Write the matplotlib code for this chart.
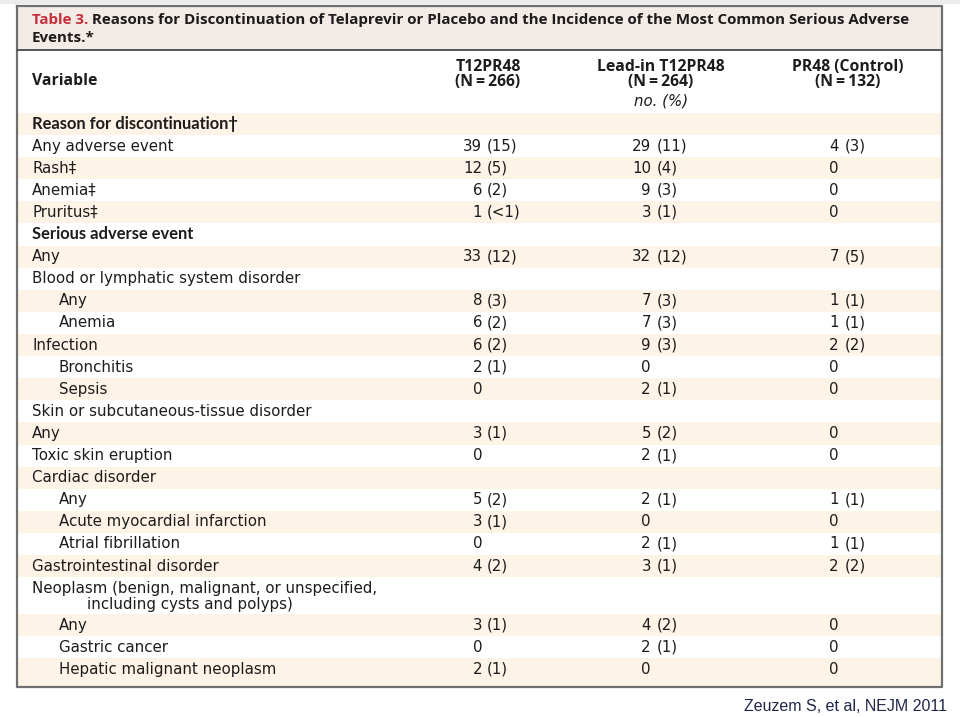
import matplotlib
matplotlib.use("Agg")
import matplotlib.pyplot as plt
from matplotlib.patches import Rectangle

# ---------------- data ----------------
title_red = "Table 3."
title_line1 = " Reasons for Discontinuation of Telaprevir or Placebo and the Incidence of the Most Common Serious Adverse"
title_line2 = "Events.*"

col_headers = [("T12PR48", "(N\u2009=\u2009266)"),
               ("Lead-in T12PR48", "(N\u2009=\u2009264)"),
               ("PR48 (Control)", "(N\u2009=\u2009132)")]
units_label = "no. (%)"
variable_label = "Variable"

labels = ["Reason for discontinuation\u2020", "Any adverse event", "Rash\u2021", "Anemia\u2021",
          "Pruritus\u2021", "Serious adverse event", "Any", "Blood or lymphatic system disorder",
          "Any", "Anemia", "Infection", "Bronchitis", "Sepsis",
          "Skin or subcutaneous-tissue disorder", "Any", "Toxic skin eruption",
          "Cardiac disorder", "Any", "Acute myocardial infarction", "Atrial fibrillation",
          "Gastrointestinal disorder",
          "Neoplasm (benign, malignant, or unspecified,\nincluding cysts and polyps)",
          "Any", "Gastric cancer", "Hepatic malignant neoplasm"]
indent = [0, 0, 0, 0, 0, 0, 0, 0, 1, 1, 0, 1, 1, 0, 0, 0, 0, 1, 1, 1, 0, 0, 1, 1, 1]
is_bold = [1, 0, 0, 0, 0, 1, 0, 0, 0, 0, 0, 0, 0, 0, 0, 0, 0, 0, 0, 0, 0, 0, 0, 0, 0]

t12_n = [None, 39, 12, 6, 1, None, 33, None, 8, 6, 6, 2, 0, None, 3, 0, None, 5, 3, 0, 4, None, 3, 0, 2]
t12_pct = [None, "15", "5", "2", "<1", None, "12", None, "3", "2", "2", "1", None, None, "1", None,
           None, "2", "1", None, "2", None, "1", None, "1"]
lead_n = [None, 29, 10, 9, 3, None, 32, None, 7, 7, 9, 0, 2, None, 5, 2, None, 2, 0, 2, 3, None, 4, 2, 0]
lead_pct = [None, "11", "4", "3", "1", None, "12", None, "3", "3", "3", None, "1", None, "2", "1",
            None, "1", None, "1", "1", None, "2", "1", None]
pr48_n = [None, 4, 0, 0, 0, None, 7, None, 1, 1, 2, 0, 0, None, 0, 0, None, 1, 0, 1, 2, None, 0, 0, 0]
pr48_pct = [None, "3", None, None, None, None, "5", None, "1", "1", "2", None, None, None, None, None,
            None, "1", None, "1", "2", None, None, None, None]

credit = "Zeuzem S, et al, NEJM 2011"

# ---------------- style ----------------
W, H = 960, 717
TXT = "#1e1b1c"
RED = "#c62f3b"
BAND = "#f3ebe6"
STRIPE = "#fdf4e7"
FRAME = "#707070"
FONT = ["DejaVu Sans"]
TFONT = ["Open Sans", "DejaVu Sans"]   # title / column headers
SFONT = ["Lato", "DejaVu Sans"]        # bold section labels

fig = plt.figure(figsize=(W / 100, H / 100), dpi=100)
ax = fig.add_axes([0, 0, 1, 1])
ax.set_xlim(0, W)
ax.set_ylim(H, 0)
ax.axis("off")
renderer = fig.canvas.get_renderer()


def fit(text, target, **kw):
    t = ax.text(0, 0, text, fontsize=10, **kw)
    w = t.get_window_extent(renderer).width
    t.remove()
    return 10 * target / w


title_fs = fit(title_red + title_line1, 885, family=TFONT, weight="bold")
body_fs = fit("Acute myocardial infarction", 207, family=FONT)
bold_fs = fit("Serious adverse event", 163, family=SFONT, weight="bold")
head_fs = fit("Lead-in T12PR48", 127, family=TFONT, weight="bold")

L, R, T, B = 17, 942, 6, 687
# light strip at very top
ax.add_patch(Rectangle((0, 0), W, 4, color="#ececec", lw=0))
# title band
ax.add_patch(Rectangle((L, T), R - L, 50 - T, color=BAND, lw=0))

# rows
row_h = [22.1] * len(labels)
row_h[21] = 37
x_label = [32, 59]
x_cont = 87
top = 113
row_tops = []
for i, h in enumerate(row_h):
    row_tops.append(top)
    if i % 2 == 0:
        hh = h if i < len(labels) - 1 else B - top
        ax.add_patch(Rectangle((L, top), R - L, hh, color=STRIPE, lw=0))
    top += h

# frame
ax.plot([L, R, R, L, L], [T, T, B, B, T], color=FRAME, lw=1.6, solid_capstyle="projecting")
ax.plot([L, R], [50, 50], color="#555555", lw=1.4)

# title
t1 = ax.text(32, 24, title_red, color=RED, fontsize=title_fs, family=TFONT, weight="bold", va="baseline")
w_red = t1.get_window_extent(renderer).width
ax.text(32 + w_red, 24, title_line1, color=TXT, fontsize=title_fs, family=TFONT, weight="bold", va="baseline")
ax.text(32, 42, title_line2, color=TXT, fontsize=title_fs, family=TFONT, weight="bold", va="baseline")

# header
ax.text(32, 85, variable_label, color=TXT, fontsize=head_fs, family=TFONT, weight="bold", va="baseline")
col_centers = [488, 661, 848]
for cx, (h1, h2) in zip(col_centers, col_headers):
    ax.text(cx, 71, h1, color=TXT, fontsize=head_fs, family=TFONT, weight="bold", ha="center", va="baseline")
    ax.text(cx, 86, h2, color=TXT, fontsize=head_fs, family=TFONT, weight="bold", ha="center", va="baseline")
ax.text(661, 106, units_label, color=TXT, fontsize=body_fs, family=FONT, style="italic",
        ha="center", va="baseline")

# body
num_right = [482, 651, 839]
pct_left = [487, 657, 845]
cols = [(t12_n, t12_pct), (lead_n, lead_pct), (pr48_n, pr48_pct)]
for i, lab in enumerate(labels):
    yb = row_tops[i] + 15.5
    for k, line in enumerate(lab.split("\n")):
        x = x_label[indent[i]] if k == 0 else x_cont
        if is_bold[i]:
            ax.text(x, yb, line, color=TXT, fontsize=bold_fs, family=SFONT,
                    weight="bold", va="baseline")
        else:
            ax.text(x, yb + 16 * k, line, color=TXT, fontsize=body_fs, family=FONT,
                    va="baseline")
    for c, (ns, ps) in enumerate(cols):
        n = ns[i]
        if n is None:
            continue
        ax.text(num_right[c], yb, str(n), color=TXT, fontsize=body_fs, family=FONT,
                ha="right", va="baseline")
        if ps[i] is not None:
            ax.text(pct_left[c], yb, "(" + ps[i] + ")", color=TXT, fontsize=body_fs, family=FONT,
                    ha="left", va="baseline")

# credit
ax.text(947, 711, credit, color="#1f2747", fontsize=11.5, family="Liberation Sans",
        ha="right", va="baseline")

fig.savefig("out.png", dpi=100)
